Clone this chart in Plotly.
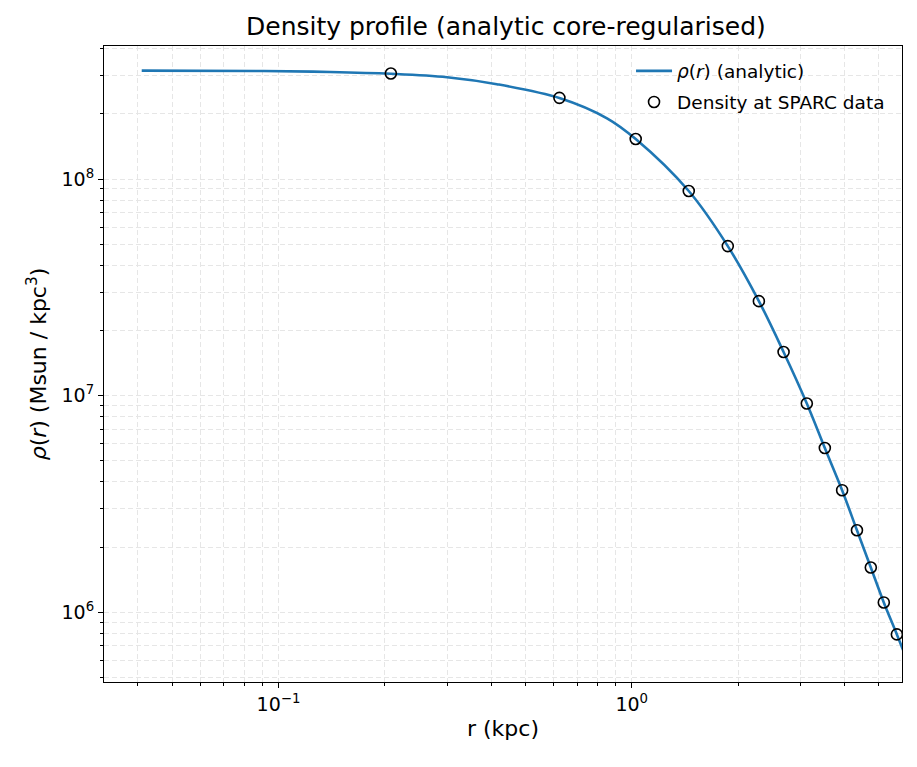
import plotly.graph_objects as go

# values
r_line = [0.041, 0.0906, 0.14, 0.208, 0.30, 0.415, 0.627, 0.851, 1.026,
          1.45, 1.87, 2.29, 2.69, 3.13, 3.52, 3.94, 4.34, 4.75, 5.17, 5.63, 6.2]
rho_line = [3.164e8, 3.15e8, 3.12e8, 3.06e8, 2.95e8, 2.74e8, 2.36e8, 1.907e8,
            1.53e8, 8.8e7, 4.9e7, 2.73e7, 1.59e7, 9.2e6, 5.73e6, 3.66e6,
            2.39e6, 1.61e6, 1.11e6, 7.9e5, 5.3e5]

r_data = [0.208, 0.624, 1.026, 1.45, 1.87, 2.29, 2.69, 3.13, 3.52, 3.94,
          4.34, 4.75, 5.17, 5.63]
rho_data = [3.07e8, 2.37e8, 1.53e8, 8.8e7, 4.9e7, 2.73e7, 1.59e7, 9.2e6,
            5.73e6, 3.66e6, 2.39e6, 1.61e6, 1.11e6, 7.9e5]

x_tickvals = [0.1, 1]
x_ticktext = ["10<sup>−1</sup>", "10<sup>0</sup>"]
y_tickvals = [1e6, 1e7, 1e8]
y_ticktext = ["10<sup>6</sup>", "10<sup>7</sup>", "10<sup>8</sup>"]

FONT = "DejaVu Sans"
GRID = "#e6e6e6"

fig = go.Figure()
fig.add_trace(go.Scatter(
    x=r_line, y=rho_line, mode="lines",
    line=dict(color="#1f77b4", width=2.6, shape="spline", smoothing=1.0),
    name="<i>ρ</i>(<i>r</i>) (analytic)", legendgroup="analytic",
))
fig.add_trace(go.Scatter(
    x=r_data, y=rho_data, mode="markers",
    marker=dict(symbol="circle-open", size=11, color="black",
                line=dict(width=1.6, color="black")),
    name="Density at SPARC data", legendgroup="sparc",
))

axis_common = dict(
    type="log",
    showline=True, linecolor="black", linewidth=1.2, mirror=True,
    ticks="outside", ticklen=5, tickwidth=1.2, tickcolor="black",
    showgrid=True, gridcolor=GRID, gridwidth=1, griddash="5px,3px",
    zeroline=False,
    tickfont=dict(family=FONT, size=19, color="black"),
    tickmode="array",
    minor=dict(dtick="D1", ticks="outside", ticklen=3, tickcolor="black",
               showgrid=True, gridcolor=GRID, gridwidth=1, griddash="5px,3px"),
)

fig.update_xaxes(
    **axis_common,
    range=[-1.494, 0.765],
    tickvals=x_tickvals, ticktext=x_ticktext,
    title=dict(text="r (kpc)", font=dict(family=FONT, size=22, color="black"),
               standoff=6),
)
fig.update_yaxes(
    **axis_common,
    range=[5.678, 8.614],
    tickvals=y_tickvals, ticktext=y_ticktext,
    title=dict(text="<i>ρ</i>(<i>r</i>) (Msun / kpc<sup>3</sup>)",
               font=dict(family=FONT, size=22, color="black"), standoff=8),
)

fig.update_layout(
    width=917, height=767,
    margin=dict(l=96, r=23, t=38, b=93),
    plot_bgcolor="white", paper_bgcolor="white",
    title=dict(text="Density profile (analytic core-regularised)",
               font=dict(family=FONT, size=25, color="black"),
               x=0.543, xanchor="center", y=0.976, yanchor="middle"),
    legend=dict(x=0.985, y=0.99, xanchor="right", yanchor="top",
                bgcolor="rgba(0,0,0,0)", borderwidth=0, itemwidth=36,
                tracegroupgap=4,
                font=dict(family=FONT, size=18.5, color="black")),
    font=dict(family=FONT),
)

fig.write_html("out.html")
